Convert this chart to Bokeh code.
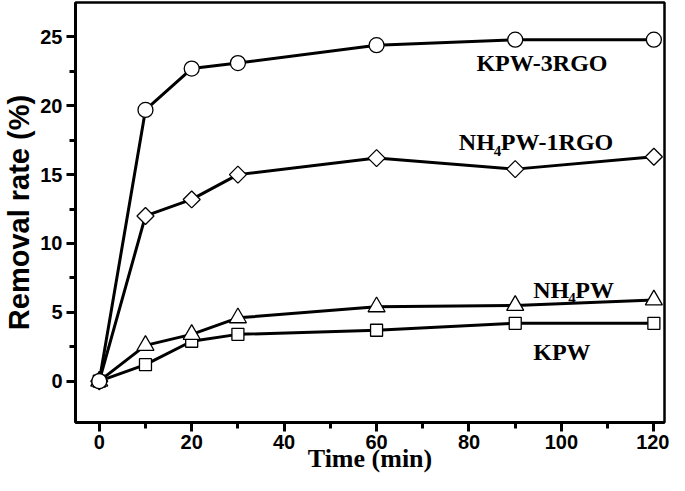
import math
from bokeh.plotting import figure
from bokeh.models import Range1d, FixedTicker
from bokeh.core.properties import value
from bokeh.embed import file_html
from bokeh.resources import INLINE

# ---- data ----
time_min = [0, 10, 20, 30, 60, 90, 120]
kpw_3rgo = [0, 19.7, 22.7, 23.1, 24.4, 24.8, 24.8]
nh4pw_1rgo = [0, 12.0, 13.2, 15.0, 16.2, 15.4, 16.3]
nh4pw = [0, 2.6, 3.4, 4.6, 5.4, 5.5, 5.9]
kpw = [0, 1.2, 2.9, 3.4, 3.7, 4.2, 4.2]

x_ticks = [0, 20, 40, 60, 80, 100, 120]
x_minor = [10, 30, 50, 70, 90, 110]
y_ticks = [0, 5, 10, 15, 20, 25]
y_minor = [2.5, 7.5, 12.5, 17.5, 22.5]

SERIF = "Liberation Serif"
SANS = "Liberation Sans"

p = figure(width=669, height=475, x_range=Range1d(-5.14, 122.3), y_range=Range1d(-3.0, 27.5),
           output_backend="svg", toolbar_location=None,
           min_border_left=70, min_border_right=5, min_border_top=2, min_border_bottom=40)
p.background_fill_color = "white"
p.border_fill_color = "white"
p.grid.visible = False
p.outline_line_color = "black"
p.outline_line_width = 2.5

for ax in (p.xaxis[0], p.yaxis[0]):
    ax.axis_line_width = 3
    ax.axis_line_color = "black"
    ax.major_tick_line_width = 3
    ax.minor_tick_line_width = 3
    ax.major_tick_in = 0
    ax.minor_tick_in = 0
    ax.major_tick_out = 9
    ax.minor_tick_out = 6
    ax.major_label_text_font = SANS
    ax.major_label_text_font_style = "bold"
    ax.major_label_text_font_size = "20px"
    ax.major_label_text_color = "black"
    ax.axis_label_text_color = "black"

p.xaxis.ticker = FixedTicker(ticks=x_ticks, minor_ticks=x_minor)
p.yaxis.ticker = FixedTicker(ticks=y_ticks, minor_ticks=y_minor)
p.xaxis.major_label_standoff = 3
p.yaxis.major_label_standoff = 4

p.xaxis.axis_label = "Time (min)"
p.xaxis.axis_label_text_font = SERIF
p.xaxis.axis_label_text_font_style = "bold"
p.xaxis.axis_label_text_font_size = "26px"
p.xaxis.axis_label_standoff = -8
p.yaxis.axis_label = "Removal rate (%)"
p.yaxis.axis_label_text_font = SANS
p.yaxis.axis_label_text_font_style = "bold"
p.yaxis.axis_label_text_font_size = "29px"
p.yaxis.axis_label_standoff = 2

series = [
    (kpw, "square", 12, 0),
    (nh4pw, "triangle", 17, 0),
    (nh4pw_1rgo, "square", 12, math.pi / 4),
    (kpw_3rgo, "circle", 15, 0),
]
for ys, marker, size, angle in series:
    p.line(time_min, ys, line_color="black", line_width=3)
for ys, marker, size, angle in series:
    p.scatter(time_min, ys, marker=marker, size=size, angle=angle,
              fill_color="white", line_color="black", line_width=1.3)

lbl = dict(text_font=value(SERIF), text_font_style="bold", text_color="black",
           text_baseline="alphabetic", text_align="left")

p.text(x=[81.6], y=[23.1], text=["KPW-3RGO"], text_font_size="24px", **lbl)
p.text(x=[93.9], y=[2.15], text=["KPW"], text_font_size="24px", **lbl)
# NH4PW-1RGO
p.text(x=[77.8], y=[17.4], text=["NH"], text_font_size="24px", **lbl)
p.text(x=[77.8], y=[17.4], text=["4"], x_offset=35, y_offset=9, text_font_size="15px", **lbl)
p.text(x=[77.8], y=[17.4], text=["PW-1RGO"], x_offset=42, text_font_size="24px", **lbl)
# NH4PW
p.text(x=[93.9], y=[6.63], text=["NH"], text_font_size="24px", **lbl)
p.text(x=[93.9], y=[6.63], text=["4"], x_offset=35, y_offset=8, text_font_size="15px", **lbl)
p.text(x=[93.9], y=[6.63], text=["PW"], x_offset=42, text_font_size="24px", **lbl)

open("out.html", "w").write(file_html(p, INLINE))
